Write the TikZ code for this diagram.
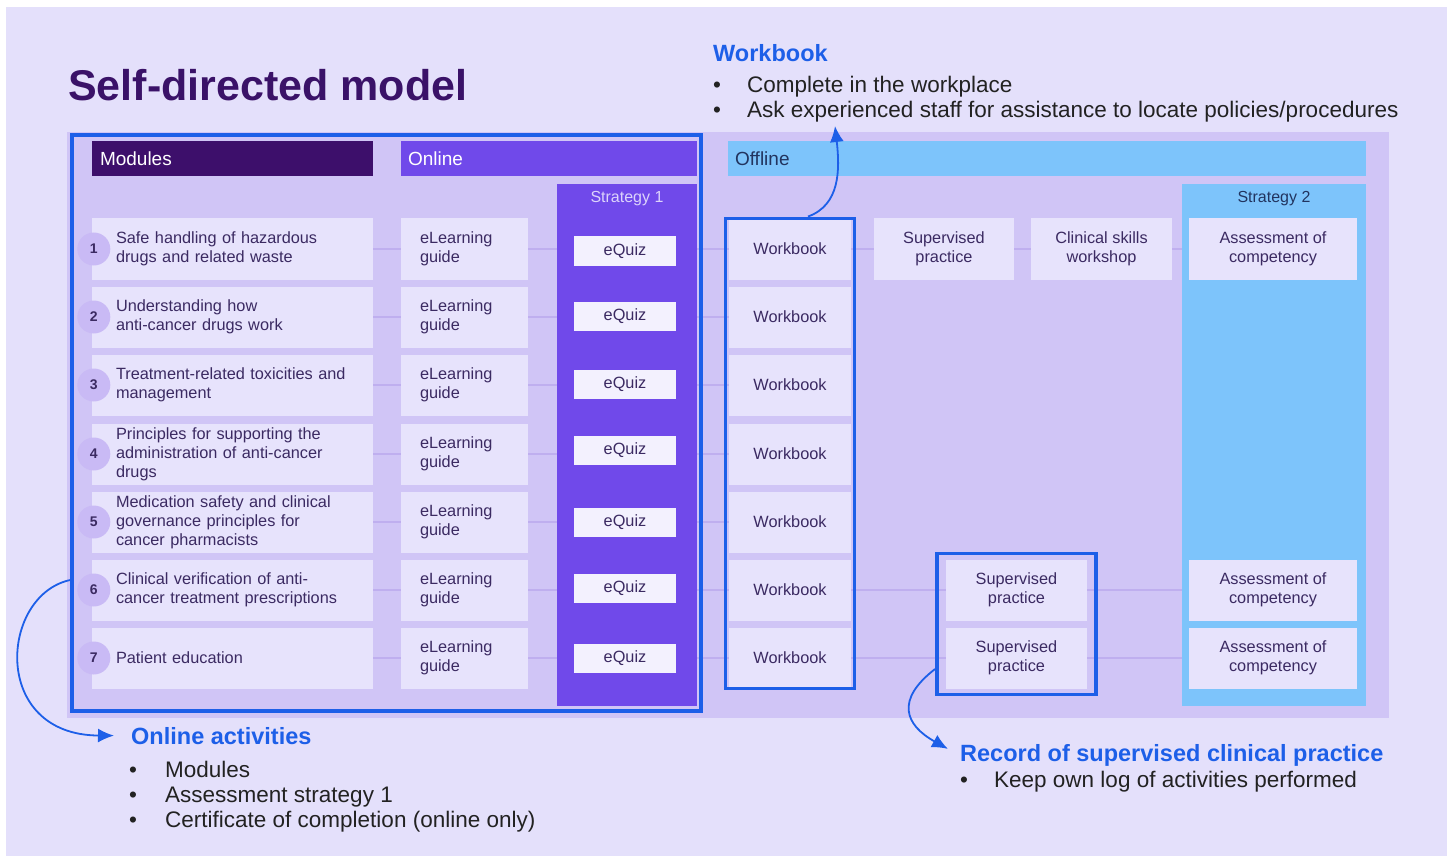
\documentclass[tikz,border=0pt]{standalone}
\usepackage{fontspec}
\setmainfont{Liberation Sans}
\usetikzlibrary{arrows.meta,fit}

\pgfdeclarelayer{bg}
\pgfdeclarelayer{links}
\pgfdeclarelayer{cols}
\pgfsetlayers{bg,links,cols,main}

\definecolor{pagebg}{HTML}{E4E0FB}
\definecolor{panelc}{HTML}{D0C5F6}
\definecolor{boxc}{HTML}{E7E3FC}
\definecolor{quizc}{HTML}{F3F1FE}
\definecolor{modhead}{HTML}{3D0F6B}
\definecolor{onlinec}{HTML}{7049EA}
\definecolor{skyc}{HTML}{7DC4FB}
\definecolor{outblue}{HTML}{1D5FE8}
\definecolor{numc}{HTML}{C9BAF5}
\definecolor{linkc}{HTML}{BFAFEF}
\definecolor{titlec}{HTML}{3A1268}
\definecolor{txtc}{HTML}{3B2A62}
\definecolor{bodyc}{HTML}{222222}
\definecolor{navyc}{HTML}{22345F}
\definecolor{s1txt}{HTML}{DCD3FB}

\tikzset{
  cell/.style={fill=boxc, inner sep=0, minimum height=61, text=txtc, font=\fontsize{16.3}{19}\selectfont},
  modbox/.style={cell, minimum width=281, text width=233, align=left},
  elbox/.style={cell, minimum width=127, text width=89, align=left},
  quizbox/.style={cell, fill=quizc, minimum width=102, minimum height=29},
  wbbox/.style={cell, minimum width=122},
  offbox/.style={cell, align=center},
  numdot/.style={circle, fill=numc, minimum size=33, inner sep=0, text=txtc, font=\bfseries\fontsize{14}{16}\selectfont},
  headbar/.style={inner sep=0, minimum height=35, align=left, font=\fontsize{19}{22}\selectfont},
  stratcol/.style={inner sep=0, minimum height=522},
  outline/.style={draw=outblue, line width=3.5},
  rowlink/.style={draw=linkc, line width=1.5},
  callout/.style={draw=outblue, line width=1.8, -{Latex[length=16pt,width=14pt]}},
  heading/.style={anchor=base west, inner sep=0, text=outblue, font=\bfseries\fontsize{23.5}{28}\selectfont},
  notes/.style={anchor=base west, inner sep=0, align=left, text=bodyc, font=\fontsize{22.5}{25}\selectfont},
}

\begin{document}
\begin{tikzpicture}[x=1pt, y=-1pt]
        \useasboundingbox (0,0) rectangle (1451,861);

        % Page and panel
        \begin{pgfonlayer}{bg}
        \fill[white] (0,0) rectangle (1451,861);
        \fill[pagebg] (6,7) rectangle (1447,856);
        \fill[panelc] (67,132) rectangle (1389,718);
        \end{pgfonlayer}

        % Title
        \node[anchor=base west, inner sep=0, text=titlec, font=\bfseries\fontsize{43}{50}\selectfont] (title) at (68,101) {Self-directed model};

        % Column headers
        \node[headbar, fill=modhead, text=white, minimum width=281, text width=265] (hmod) at (232.5,158.5) {Modules};
        \node[headbar, fill=onlinec, text=white, minimum width=296, text width=282] (hon) at (549,158.5) {Online};
        \node[headbar, fill=skyc, text=navyc, minimum width=638, text width=624] (hoff) at (1047,158.5) {Offline};

        % Strategy columns
        \begin{pgfonlayer}{cols}
        \node[stratcol, fill=onlinec, minimum width=140] (s1) at (627,445) {};
        \node[stratcol, fill=skyc, minimum width=184] (s2) at (1274,445) {};
        \end{pgfonlayer}
        \node[text=s1txt, font=\fontsize{16}{19}\selectfont] (s1lab) at (627,199) {Strategy 1};
        \node[text=navyc, font=\fontsize{16}{19}\selectfont] (s2lab) at (1274,199) {Strategy 2};

        % Modules
        \node[modbox] (m1) at (232.5,249) {Safe handling of hazardous\\drugs and related waste};
        \node[modbox] (m2) at (232.5,317) {Understanding how\\anti-cancer drugs work};
        \node[modbox] (m3) at (232.5,385) {Treatment-related toxicities and\\management};
        \node[modbox] (m4) at (232.5,454) {Principles for supporting the\\administration of anti-cancer\\drugs};
        \node[modbox] (m5) at (232.5,522) {Medication safety and clinical\\governance principles for\\cancer pharmacists};
        \node[modbox] (m6) at (232.5,590) {Clinical verification of anti-\\cancer treatment prescriptions};
        \node[modbox] (m7) at (232.5,658) {Patient education};

        % Module numbers
        \node[numdot] (n1) at ([xshift=2]m1.west) {1};
        \node[numdot] (n2) at ([xshift=2]m2.west) {2};
        \node[numdot] (n3) at ([xshift=2]m3.west) {3};
        \node[numdot] (n4) at ([xshift=2]m4.west) {4};
        \node[numdot] (n5) at ([xshift=2]m5.west) {5};
        \node[numdot] (n6) at ([xshift=2]m6.west) {6};
        \node[numdot] (n7) at ([xshift=2]m7.west) {7};

        % eLearning guides
        \node[elbox] (e1) at (464.5,249) {eLearning\\guide};
        \node[elbox] (e2) at (464.5,317) {eLearning\\guide};
        \node[elbox] (e3) at (464.5,385) {eLearning\\guide};
        \node[elbox] (e4) at (464.5,454) {eLearning\\guide};
        \node[elbox] (e5) at (464.5,522) {eLearning\\guide};
        \node[elbox] (e6) at (464.5,590) {eLearning\\guide};
        \node[elbox] (e7) at (464.5,658) {eLearning\\guide};

        % eQuizzes
        \node[quizbox] (q1) at (625,251) {eQuiz};
        \node[quizbox] (q2) at (625,316) {eQuiz};
        \node[quizbox] (q3) at (625,384) {eQuiz};
        \node[quizbox] (q4) at (625,450) {eQuiz};
        \node[quizbox] (q5) at (625,522) {eQuiz};
        \node[quizbox] (q6) at (625,588) {eQuiz};
        \node[quizbox] (q7) at (625,658) {eQuiz};

        % Workbooks
        \node[wbbox] (w1) at (790,249) {Workbook};
        \node[wbbox] (w2) at (790,317) {Workbook};
        \node[wbbox] (w3) at (790,385) {Workbook};
        \node[wbbox] (w4) at (790,454) {Workbook};
        \node[wbbox] (w5) at (790,522) {Workbook};
        \node[wbbox] (w6) at (790,590) {Workbook};
        \node[wbbox] (w7) at (790,658) {Workbook};

        % Offline activities
        \node[offbox, minimum width=140] (sp1) at (944,249) {Supervised\\practice};
        \node[offbox, minimum width=141] (cs1) at (1101.5,249) {Clinical skills\\workshop};
        \node[offbox, minimum width=168] (a1) at (1273,249) {Assessment of\\competency};
        \node[offbox, minimum width=141] (sp6) at (1016.5,590) {Supervised\\practice};
        \node[offbox, minimum width=168] (a6) at (1273,590) {Assessment of\\competency};
        \node[offbox, minimum width=141] (sp7) at (1016.5,658) {Supervised\\practice};
        \node[offbox, minimum width=168] (a7) at (1273,658) {Assessment of\\competency};

        % Row links
        \begin{pgfonlayer}{links}
        \draw[rowlink] (m1.east) -- (e1.west) (e1.east) -- (e1.east -| q1.west) (q1.west |- m1.east) -- (w1.west);
        \draw[rowlink] (m2.east) -- (e2.west) (e2.east) -- (e2.east -| q2.west) (q2.west |- m2.east) -- (w2.west);
        \draw[rowlink] (m3.east) -- (e3.west) (e3.east) -- (e3.east -| q3.west) (q3.west |- m3.east) -- (w3.west);
        \draw[rowlink] (m4.east) -- (e4.west) (e4.east) -- (e4.east -| q4.west) (q4.west |- m4.east) -- (w4.west);
        \draw[rowlink] (m5.east) -- (e5.west) (e5.east) -- (e5.east -| q5.west) (q5.west |- m5.east) -- (w5.west);
        \draw[rowlink] (m6.east) -- (e6.west) (e6.east) -- (e6.east -| q6.west) (q6.west |- m6.east) -- (w6.west);
        \draw[rowlink] (m7.east) -- (e7.west) (e7.east) -- (e7.east -| q7.west) (q7.west |- m7.east) -- (w7.west);
        \draw[rowlink] (w1.east) -- (sp1.west) (sp1.east) -- (cs1.west) (cs1.east) -- (a1.west);
        \draw[rowlink] (w6.east) -- (sp6.west) (sp6.east) -- (a6.west);
        \draw[rowlink] (w7.east) -- (sp7.west) (sp7.east) -- (a7.west);
        \end{pgfonlayer}

        % Blue outlines
        \node[outline, minimum width=629, minimum height=576, inner sep=0] (onl) at (386.5,423) {};
        \node[outline, fit=(w1)(w7), inner xsep=3.5, inner ysep=0] (wbox) {};
        \node[outline, fit=(sp6)(sp7), inner xsep=9, inner ysep=6] (spbox) {};

        % Notes
        \node[heading] (wbhead) at (713,62) {Workbook};
        \node[notes] (wbnote) at (713,118) {\makebox[34pt][l]{\textbullet}Complete in the workplace\\\makebox[34pt][l]{\textbullet}Ask experienced staff for assistance to locate policies/procedures};
        \node[heading] (oahead) at (131,744) {Online activities};
        \node[notes] (oanote) at (129,827) {\makebox[36pt][l]{\textbullet}Modules\\\makebox[36pt][l]{\textbullet}Assessment strategy 1\\\makebox[36pt][l]{\textbullet}Certificate of completion (online only)};
        \node[heading] (rechead) at (960,761) {Record of supervised clinical practice};
        \node[notes] (recnote) at (960,787) {\makebox[34pt][l]{\textbullet}Keep own log of activities performed};

        % Callout arrows
        \coordinate (wbtip) at (835,126);
        \draw[callout] ([xshift=18]wbox.north) .. controls (840,205) and (840,170) .. (wbtip);
        \draw[callout] ([yshift=-157]onl.west) .. controls (0,595) and (-10,735) .. ([xshift=-17]oahead.west);
        \draw[callout] ([yshift=-45]spbox.west) .. controls (895,700) and (905,725) .. ([xshift=-12,yshift=6]rechead.west);
    \end{tikzpicture}
\end{document}
